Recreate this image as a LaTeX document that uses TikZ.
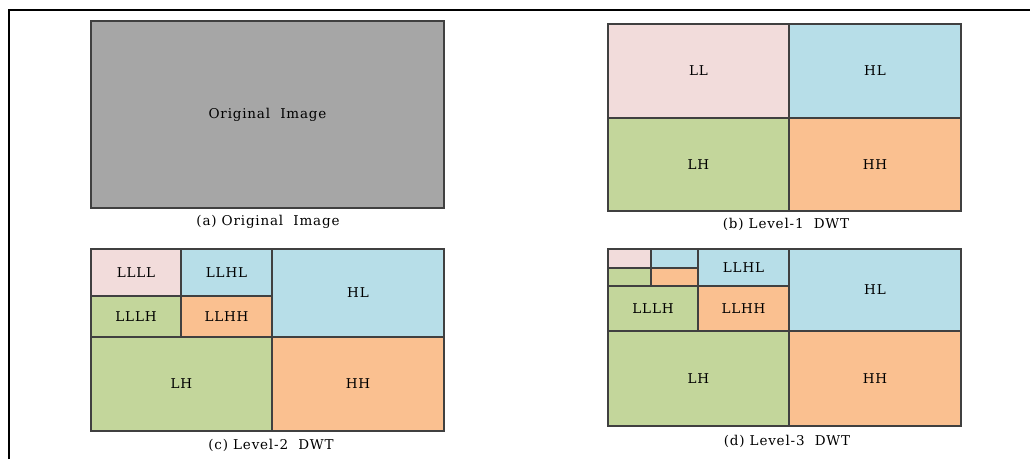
\documentclass[tikz,border=0pt]{standalone}
\usepackage{fontspec}
\setmainfont{DejaVu Serif}[LetterSpace=6]
\usepackage{tikz}
\usetikzlibrary{positioning}

\definecolor{llpink}{HTML}{F2DCDB}
\definecolor{hlblue}{HTML}{B7DEE8}
\definecolor{lhgreen}{HTML}{C3D69B}
\definecolor{hhorange}{HTML}{FAC090}
\definecolor{imggray}{HTML}{A6A6A6}
\definecolor{edgegray}{HTML}{404040}

\begin{document}
\begin{tikzpicture}[x=1pt, y=-1pt, font=\fontsize{13.5}{15}\selectfont]
      \tikzstyle{band} = [rectangle, draw=edgegray, line width=1.2pt, inner sep=0pt, outer sep=0pt, text centered]
      \tikzstyle{caption} = [inner sep=0pt, font=\fontsize{13.5}{15}\selectfont]

      \useasboundingbox (0,0) rectangle (1030,459);

      % frame (left and top edge only)
      \coordinate (frame-bl) at (9,459);
      \coordinate (frame-tr) at (1030,10);
      \draw [line width=1.5pt] (frame-bl) |- (frame-tr);

      % (a) original image
      \path[] node[band, fill=imggray, minimum width=353, minimum height=187] (img) at (267.5,114.5) {Original\ \ Image};
      \node[caption] (cap-a) at (268,222) {(a) Original\ \ Image};

      % (b) level-1
      \path[] node[band, fill=llpink, minimum width=181, minimum height=94] (b-LL) at (698.5,71) {LL};
      \path[] node[band, fill=hlblue, minimum width=172, minimum height=94] (b-HL) at (875,71) {HL};
      \path[] node[band, fill=lhgreen, minimum width=181, minimum height=93] (b-LH) at (698.5,164.5) {LH};
      \path[] node[band, fill=hhorange, minimum width=172, minimum height=93] (b-HH) at (875,164.5) {HH};
      \node[caption] (cap-b) at (786,224) {(b) Level-1\ \ DWT};

      % (c) level-2
      \path[] node[band, fill=llpink, minimum width=90, minimum height=47] (c-LLLL) at (136,272.5) {LLLL};
      \path[] node[band, fill=hlblue, minimum width=91, minimum height=47] (c-LLHL) at (226.5,272.5) {LLHL};
      \path[] node[band, fill=lhgreen, minimum width=90, minimum height=41] (c-LLLH) at (136,316.5) {LLLH};
      \path[] node[band, fill=hhorange, minimum width=91, minimum height=41] (c-LLHH) at (226.5,316.5) {LLHH};
      \path[] node[band, fill=hlblue, minimum width=172, minimum height=88] (c-HL) at (358,293) {HL};
      \path[] node[band, fill=lhgreen, minimum width=181, minimum height=94] (c-LH) at (181.5,384) {LH};
      \path[] node[band, fill=hhorange, minimum width=172, minimum height=94] (c-HH) at (358,384) {HH};
      \node[caption] (cap-c) at (271,445) {(c) Level-2\ \ DWT};

      % (d) level-3
      \path[] node[band, fill=llpink, minimum width=43, minimum height=19] (d-LL3) at (629.5,258.5) {};
      \path[] node[band, fill=hlblue, minimum width=47, minimum height=19] (d-HL3) at (674.5,258.5) {};
      \path[] node[band, fill=lhgreen, minimum width=43, minimum height=18] (d-LH3) at (629.5,277) {};
      \path[] node[band, fill=hhorange, minimum width=47, minimum height=18] (d-HH3) at (674.5,277) {};
      \path[] node[band, fill=hlblue, minimum width=91, minimum height=37] (d-LLHL) at (743.5,267.5) {LLHL};
      \path[] node[band, fill=lhgreen, minimum width=90, minimum height=45] (d-LLLH) at (653,308.5) {LLLH};
      \path[] node[band, fill=hhorange, minimum width=91, minimum height=45] (d-LLHH) at (743.5,308.5) {LLHH};
      \path[] node[band, fill=hlblue, minimum width=172, minimum height=82] (d-HL) at (875,290) {HL};
      \path[] node[band, fill=lhgreen, minimum width=181, minimum height=95] (d-LH) at (698.5,378.5) {LH};
      \path[] node[band, fill=hhorange, minimum width=172, minimum height=95] (d-HH) at (875,378.5) {HH};
      \node[caption] (cap-d) at (787,441) {(d) Level-3\ \ DWT};
\end{tikzpicture}
\end{document}
